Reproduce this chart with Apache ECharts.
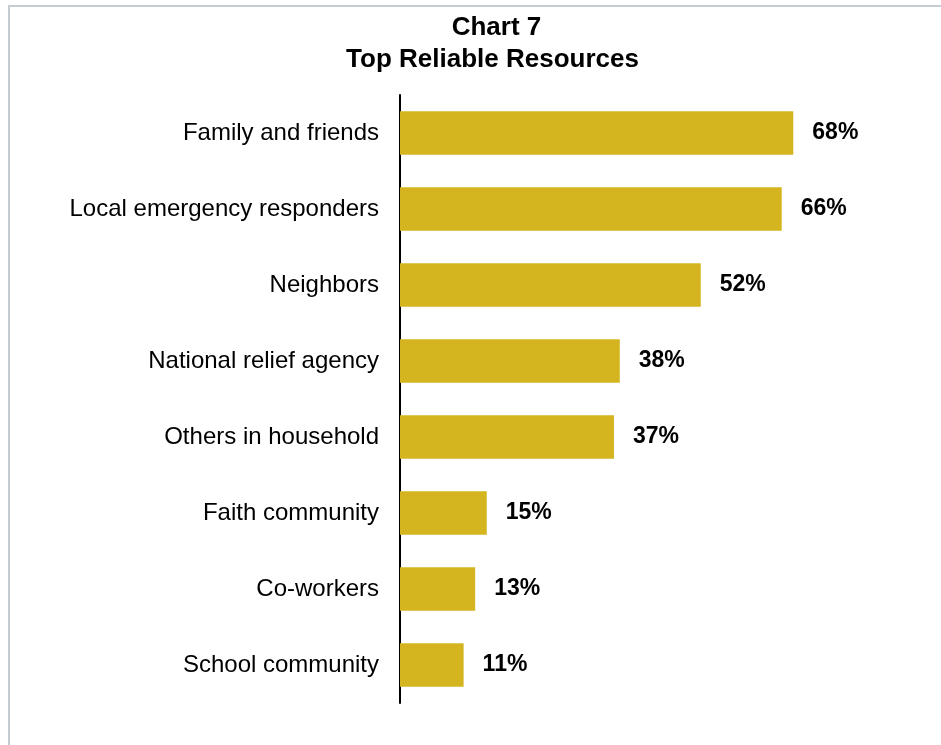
<!DOCTYPE html>
<html>
<head>
<meta charset="utf-8">
<script src="https://cdn.jsdelivr.net/npm/echarts@6/dist/echarts.min.js"></script>
<style>
  html, body { margin: 0; padding: 0; background: #fff; }
  #chart { width: 941px; height: 745px; }
</style>
</head>
<body>
<div id="chart"></div>
<script>
// Resources respondents rated as reliable
const categories = [
  'Family and friends',
  'Local emergency responders',
  'Neighbors',
  'National relief agency',
  'Others in household',
  'Faith community',
  'Co-workers',
  'School community'
];
const shares = [68, 66, 52, 38, 37, 15, 13, 11];
const titleLines = ['Chart 7', 'Top Reliable Resources'];

const titleFont = {
  fontFamily: 'Liberation Sans, Arial, sans-serif',
  fontSize: 26,
  fontWeight: 'bold',
  color: '#000'
};

const chart = echarts.init(document.getElementById('chart'));

chart.setOption({
  backgroundColor: '#ffffff',
  animation: false,
  title: [
    { text: titleLines[0], left: 491.5, textAlign: 'center', top: 10, textStyle: titleFont },
    { text: titleLines[1], left: 487.5, textAlign: 'center', top: 42, textStyle: titleFont }
  ],
  graphic: [
    { type: 'line', shape: { x1: 8, y1: 6, x2: 941, y2: 6 }, style: { stroke: '#c3cbd3', lineWidth: 2 } },
    { type: 'line', shape: { x1: 9, y1: 5, x2: 9, y2: 745 }, style: { stroke: '#c3cbd3', lineWidth: 2 } }
  ],
  grid: { left: 400, top: 95, width: 462.7, height: 608 },
  xAxis: {
    type: 'value',
    min: 0,
    max: 80,
    show: false
  },
  yAxis: {
    type: 'category',
    data: categories,
    inverse: true,
    axisLine: { show: true, lineStyle: { color: '#000', width: 2 } },
    axisTick: { show: false },
    axisLabel: {
      margin: 21,
      fontFamily: 'Liberation Sans, Arial, sans-serif',
      fontSize: 24,
      color: '#000'
    }
  },
  series: [{
    type: 'bar',
    data: shares,
    barCategoryGap: '43%',
    itemStyle: { color: '#d4b520' },
    label: {
      show: true,
      position: 'right',
      distance: 19,
      formatter: '{c}%',
      fontFamily: 'Liberation Sans, Arial, sans-serif',
      fontSize: 23,
      fontWeight: 'bold',
      color: '#000'
    }
  }]
});
</script>
</body>
</html>
